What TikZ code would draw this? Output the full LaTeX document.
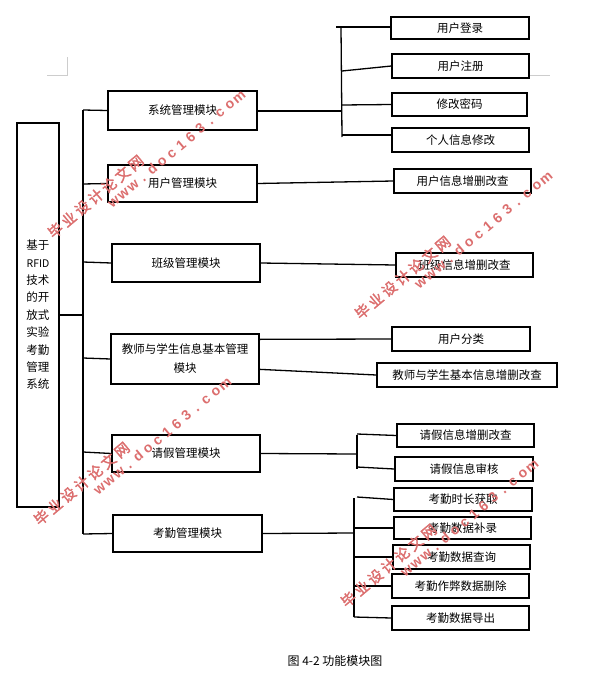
\documentclass[tikz,border=0pt]{standalone}
\usepackage{fontspec}
\setmainfont{Noto Sans CJK SC}
\newfontfamily\wmfont{Noto Sans CJK SC}[FakeBold=2]
\newfontfamily\wmlat{Liberation Sans}
\usetikzlibrary{calc}
\definecolor{wmred}{RGB}{220,110,110}
\definecolor{pagegray}{RGB}{205,205,205}
\tikzset{
  box/.style={draw=black, line width=1.3pt, fill=white, inner sep=0pt, align=center,
    font=\fontsize{11.5}{19}\selectfont},
  conn/.style={line width=1.3pt, draw=black},
  wmcn/.style={text=wmred, font=\wmfont\fontsize{14.5}{14.5}\selectfont, rotate=40, inner sep=0pt, anchor=base},
  wmen/.style={text=wmred, font=\wmlat\bfseries\fontsize{14}{14}\selectfont, rotate=40, inner sep=0pt, anchor=base},
}
\begin{document}
\begin{tikzpicture}[x=1pt,y=-1pt]
\fill[white] (0,0) rectangle (599,680);
\useasboundingbox (0,0) rectangle (599,680);
% page corner marks
\draw[pagegray, line width=0.8pt] (67,57) -- (67,75) -- (47,75);
\draw[pagegray, line width=0.8pt] (530,75) -- (550,75);

% root
\node[box, minimum width=42pt, minimum height=384pt, font=\fontsize{11.5}{17.4}\selectfont] (root) at (38,315)
  {基于\\{\fontsize{10.5}{10.5}\selectfont RFID}\\技术\\的开\\放式\\实验\\考勤\\管理\\系统};

% modules
\node[box, minimum width=149pt, minimum height=39pt] (m1) at (182.5,110.5) {系统管理模块};
\node[box, minimum width=149pt, minimum height=37pt] (m2) at (182.5,183.5) {用户管理模块};
\node[box, minimum width=148pt, minimum height=38pt] (m3) at (186,263) {班级管理模块};
\node[box, minimum width=148pt, minimum height=50pt] (m4) at (185,359) {教师与学生信息基本管理\\模块};
\node[box, minimum width=148pt, minimum height=37pt] (m5) at (186,453.5) {请假管理模块};
\node[box, minimum width=149pt, minimum height=37pt] (m6) at (187.5,533.5) {考勤管理模块};

% sub boxes
\node[box, minimum width=138pt, minimum height=22pt] (s11) at (460,28) {用户登录};
\node[box, minimum width=137pt, minimum height=24pt] (s12) at (460.5,66) {用户注册};
\node[box, minimum width=135pt, minimum height=23pt] (s13) at (459.5,104.5) {修改密码};
\node[box, minimum width=137pt, minimum height=24pt] (s14) at (460.5,140) {个人信息修改};
\node[box, minimum width=137pt, minimum height=24pt] (s21) at (462.5,181) {用户信息增删改查};
\node[box, minimum width=137pt, minimum height=24pt] (s31) at (464.5,265) {班级信息增删改查};
\node[box, minimum width=138pt, minimum height=24pt] (s41) at (461,339) {用户分类};
\node[box, minimum width=180pt, minimum height=24pt] (s42) at (467,375) {教师与学生基本信息增删改查};
\node[box, minimum width=137pt, minimum height=23pt] (s51) at (465.5,435.5) {请假信息增删改查};
\node[box, minimum width=138pt, minimum height=24pt] (s52) at (464,469) {请假信息审核};
\node[box, minimum width=138pt, minimum height=23pt] (s61) at (463,499.5) {考勤时长获取};
\node[box, minimum width=137pt, minimum height=22pt] (s62) at (462.5,528) {考勤数据补录};
\node[box, minimum width=137pt, minimum height=24pt] (s63) at (461.5,557) {考勤数据查询};
\node[box, minimum width=137pt, minimum height=24pt] (s64) at (460.5,586) {考勤作弊数据删除};
\node[box, minimum width=137pt, minimum height=24pt] (s65) at (460.5,618) {考勤数据导出};

% junction coordinates
\coordinate (sp0) at (83,110);
\coordinate (sp1) at (83,534);
\coordinate (rj) at (83,315);
\coordinate (a0) at (341,27);
\coordinate (a1) at (342,137);
\coordinate (aj) at (342,111);
\coordinate (b0) at (357,435);
\coordinate (b1) at (357,469);
\coordinate (bj) at (357,454);
\coordinate (c0) at (354,498);
\coordinate (c1) at (354,617);
\coordinate (cj) at (354,533);

% main spine
\draw[conn] (root.east |- rj) -- (rj);
\draw[conn] (sp0) -- (sp1);
\draw[conn] (sp0) -- (m1.west);
\draw[conn] (83,184) -- (m2.west);
\draw[conn] (83,262) -- (m3.west);
\draw[conn] (83,358) -- (m4.west);
\draw[conn] (83,452) -- (m5.west);
\draw[conn] (sp1) -- (m6.west);

% system management
\draw[conn] (m1.east |- aj) -- (aj);
\draw[conn] (a0) -- (a1);
\draw[conn] (336,27) -- (s11.west |- a0);
\draw[conn] (342,71) -- (s12.west);
\draw[conn] (342,105) -- (s13.west);
\draw[conn] (342,135) -- ($(s14.west)+(0,-5)$);

% single branches
\draw[conn] (m2.east) -- (s21.west);
\draw[conn] (m3.east) -- (s31.west);
\draw[conn] ($(m4.north east)+(0,6)$) -- (s41.west);
\draw[conn] ($(m4.north east)+(0,36)$) -- (s42.west);

% leave management
\draw[conn] (m5.east) -- (bj);
\draw[conn] (b0) -- (b1);
\draw[conn] (357,434) -- (s51.west);
\draw[conn] (357,467) -- (s52.west);

% attendance management
\draw[conn] (m6.east) -- (cj);
\draw[conn] (c0) -- (c1);
\draw[conn] (357,497) -- (s61.west);
\draw[conn] (c0 |- 0,528) -- (s62.west);
\draw[conn] (c0 |- 0,557) -- (s63.west);
\draw[conn] (c0 |- 0,586) -- (s64.west);
\draw[conn] (c1) -- (s65.west);

% caption
\node[font=\fontsize{12}{12}\selectfont] (cap) at (335,661) {图 4-2 功能模块图};

% watermarks
\foreach \cx/\cy in {96/197, 403/278, 82/484, 389/566} {
  \foreach \c [count=\i] in {毕,业,设,计,论,文,网}
    \node[wmcn] at ({\cx+3.2+(\i-4)*13.4},{\cy+3.8-(\i-4)*11.25}) {\c};
  \foreach \c [count=\i] in {w,w,w,.,d,o,c,1,6,3,.,c,o,m}
    \node[wmen] at ({\cx+81+2.2+(\i-7.5)*9.65},{\cy-47+2.7-(\i-7.5)*8.1}) {\c};
}
\end{tikzpicture}
\end{document}
